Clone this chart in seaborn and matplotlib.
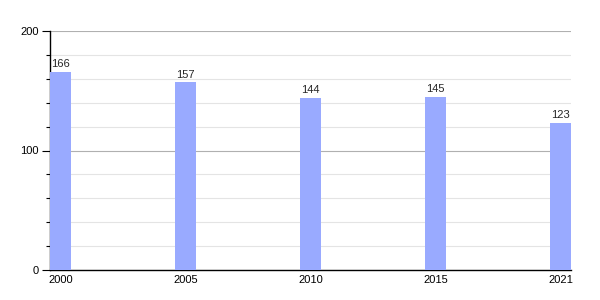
import matplotlib
matplotlib.use("Agg")
import matplotlib.pyplot as plt
import seaborn as sns
import pandas as pd
from matplotlib.ticker import MultipleLocator

years = ["2000", "2005", "2010", "2015", "2021"]
values = [166, 157, 144, 145, 123]

sns.set_style("white")
plt.rcParams['font.family'] = ['Liberation Sans', 'DejaVu Sans']

df = pd.DataFrame({"year": years, "value": values})

fig = plt.figure(figsize=(6, 3), dpi=100)
ax = fig.add_axes([50/600, 0.1, (571-50)/600, (270-31)/300])

sns.barplot(data=df, x="year", y="value", color="#99aaff", saturation=1,
            width=0.168, ax=ax, zorder=3, linewidth=0, edgecolor="none")

ax.set_xlim(-0.084, 4.084)
ax.set_ylim(0, 200)
ax.yaxis.set_major_locator(MultipleLocator(100))
ax.yaxis.set_minor_locator(MultipleLocator(20))
ax.grid(which="major", axis="y", color="#b0b0b0", linewidth=0.8, zorder=0)
ax.grid(which="minor", axis="y", color="#e4e4e4", linewidth=0.8, zorder=0)
ax.set_axisbelow(True)

for s in ["top", "right"]:
    ax.spines[s].set_visible(False)
ax.spines["left"].set_color("black")
ax.spines["bottom"].set_color("black")
ax.spines["left"].set_linewidth(1)
ax.spines["bottom"].set_linewidth(1)

ax.tick_params(axis="y", which="major", left=True, length=6, width=0.8,
               labelsize=8, pad=2, colors="black")
ax.tick_params(axis="y", which="minor", left=True, length=3, width=0.8, colors="black")
ax.tick_params(axis="x", which="both", bottom=False, length=0, labelsize=8, pad=3.5, colors="black")

ax.set_xlabel("")
ax.set_ylabel("")

for container in ax.containers:
    ax.bar_label(container, labels=[str(v) for v in values], fontsize=8, padding=2)

fig.savefig("out.png", dpi=100)
